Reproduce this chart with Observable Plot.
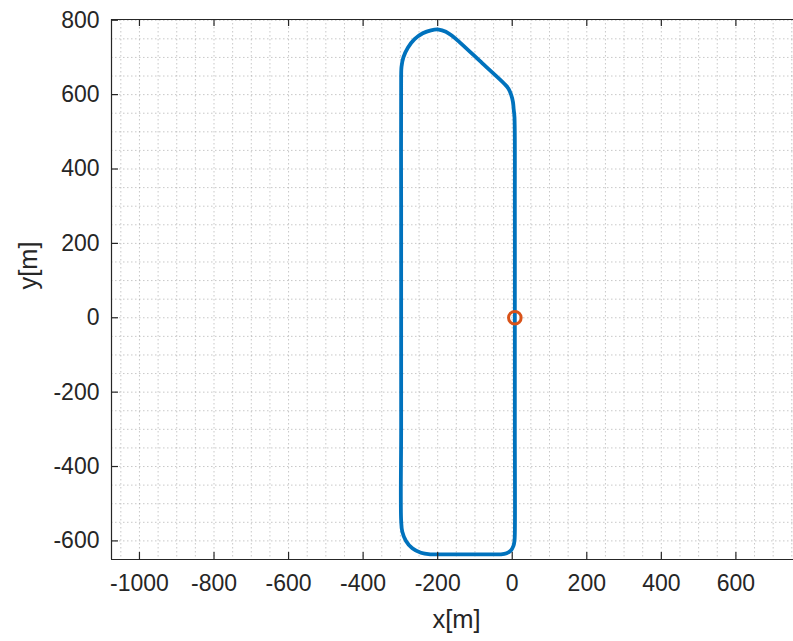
<!DOCTYPE html>
<html><head><meta charset="utf-8">
<script src="https://cdn.jsdelivr.net/npm/d3@7"></script>
<script src="https://cdn.jsdelivr.net/npm/@observablehq/plot@0.6"></script>
<style>
html,body{margin:0;padding:0;background:#fff;overflow:hidden;width:793px;height:641px}
#chart{width:801px}
#chart svg{display:block;max-width:none !important;width:801px !important;height:641px !important}
</style></head><body><div id="chart"></div>
<script>
// Track path (x, y in metres)
const pathX = [7, 7, 6, 4, 2, -3, -10, -20, -80, -140, -160, -178, -197, -218, -240, -262, -280, -292, -297, -298, -298, -298, -298, -298, -295, -285, -268, -245, -220, -170, -120, -60, -30, -15, -4, 3, 6, 7, 7, 7];
const pathY = [0, 300, 540, 560, 580, 600, 616, 628, 684, 740, 757, 769, 775, 773, 765, 749, 726, 700, 675, 650, 300, 0, -300, -545, -575, -600, -620, -632, -636, -636, -636, -636, -636, -633, -626, -614, -600, -580, -300, 0];
const startX = [7];
const startY = [0];
const xTicks = [-1000, -800, -600, -400, -200, 0, 200, 400, 600];
const yTicks = [-600, -400, -200, 0, 200, 400, 600, 800];
const xDomain = [-1075, 776];
const yDomain = [-650, 802];
const xMinor = d3.range(-1050, 800, 50);
const yMinor = d3.range(-650, 805, 50);

const points = pathX.map((x, i) => ({x, y: pathY[i]}));
const start = startX.map((x, i) => ({x, y: startY[i]}));
const axisColor = "#262626";
const font = "'Liberation Sans', Arial, Helvetica, sans-serif";

const chart = Plot.plot({
  width: 801, height: 641,
  marginLeft: 111, marginRight: 0, marginTop: 19, marginBottom: 82,
  x: {domain: xDomain},
  y: {domain: yDomain},
  style: {fontFamily: font, background: "white", color: axisColor, overflow: "visible"},
  marks: [
    Plot.gridX(xMinor, {stroke: "#9a9a9a", strokeOpacity: 0.55, strokeDasharray: "1.5,2.5"}),
    Plot.gridY(yMinor, {stroke: "#9a9a9a", strokeOpacity: 0.55, strokeDasharray: "1.5,2.5"}),
    Plot.line(points, {x: "x", y: "y", curve: "catmull-rom", stroke: "#0072BD", strokeWidth: 3.8}),
    Plot.dot(start, {x: "x", y: "y", r: 6.3, stroke: "#D95319", strokeWidth: 3, fill: "none"}),
    Plot.ruleX([xDomain[0]], {stroke: axisColor, strokeWidth: 1.2}),
    Plot.ruleY(yDomain, {stroke: axisColor, strokeWidth: 1.2}),
    Plot.tickX(xTicks, {x: d => d, insetTop: 533, stroke: axisColor, strokeWidth: 1.2}),
    Plot.tickX(xTicks, {x: d => d, insetBottom: 533, stroke: axisColor, strokeWidth: 1.2}),
    Plot.tickY(yTicks, {y: d => d, insetRight: 683, stroke: axisColor, strokeWidth: 1.2}),
    Plot.axisX(xTicks, {tickSize: 0, tickPadding: 15, fontSize: 23, label: null, tickFormat: d => String(d)}),
    Plot.axisY(yTicks, {tickSize: 0, tickPadding: 12, fontSize: 23, label: null, tickFormat: d => String(d)}),
    Plot.text(["x[m]"], {text: d => d, frameAnchor: "bottom", dy: 68, fontSize: 25.5, fill: axisColor}),
    Plot.text(["y[m]"], {text: d => d, frameAnchor: "left", dx: -83, rotate: -90, fontSize: 25.5, fill: axisColor})
  ]
});
document.getElementById("chart").appendChild(chart);
</script></body></html>
